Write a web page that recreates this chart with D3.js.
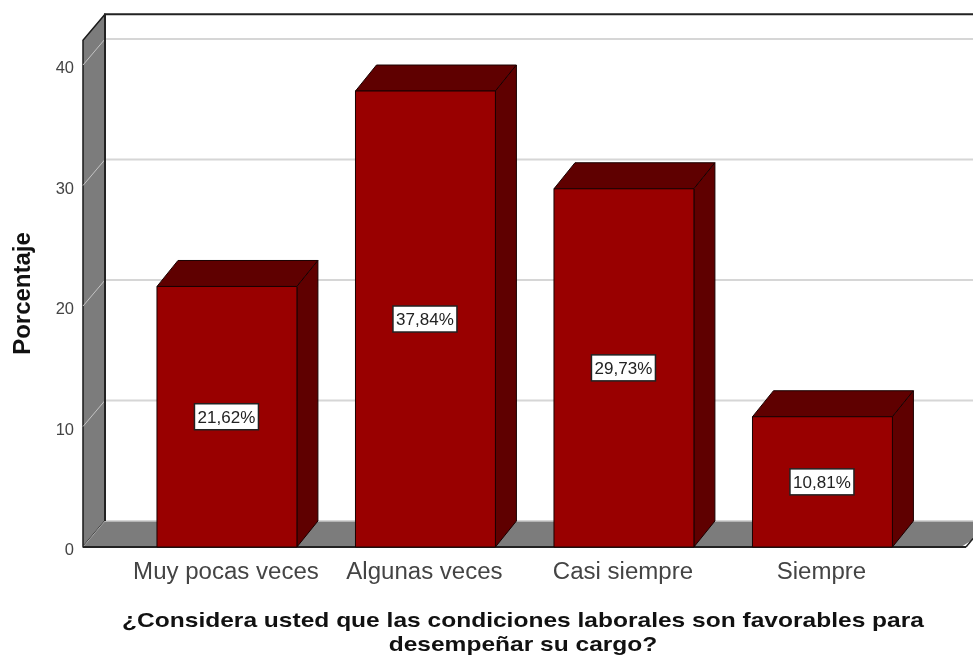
<!DOCTYPE html>
<html><head><meta charset="utf-8">
<script src="https://cdnjs.cloudflare.com/ajax/libs/d3/7.8.5/d3.min.js"></script>
<style>html,body{margin:0;padding:0;background:#fff}svg{display:block;filter:blur(0.45px)}text{font-family:"Liberation Sans",Arial,sans-serif}</style>
</head><body><svg id="c" width="973" height="655"></svg>
<script>
const categories = ["Muy pocas veces","Algunas veces","Casi siempre","Siempre"];
const values = [21.62,37.84,29.73,10.81];
const valueLabels = ["21,62%","37,84%","29,73%","10,81%"];
const yTicks = [0,10,20,30,40];
const yTitle = "Porcentaje";
const xTitleLines = ["¿Considera usted que las condiciones laborales son favorables para","desempeñar su cargo?"];

const W=973,H=655,depthX=22,depthY=26,barDepthX=21,frontLeft=83,yTopValue=42.05;
const svg=d3.select("#c");
const y=d3.scaleLinear().domain([0,40]).range([547,65]);
const x=d3.scaleBand().domain(categories).range([127.7,921.7]).paddingInner(0.295).paddingOuter(0.1475);
const poly=(pts,fill,stroke,sw)=>svg.append("polygon").attr("points",pts.map(p=>p.join(",")).join(" "))
  .attr("fill",fill).attr("stroke",stroke||"none").attr("stroke-width",sw||0).attr("stroke-linejoin","round");
const stretch=(sel,k)=>sel.each(function(){const n=this.getComputedTextLength();d3.select(this).attr("textLength",n*k).attr("lengthAdjust","spacingAndGlyphs");});
const b=y(0), t=y(yTopValue), L=frontLeft, R=W+30;

// left wall and floor
poly([[L,b],[L+depthX,b-depthY],[L+depthX,t-depthY],[L,t]],"#7c7c7c","#1a1a1a",1.5);
poly([[L,b],[L+depthX,b-depthY],[R,b-depthY],[R-depthX-20,b]],"#7c7c7c");
svg.append("line").attr("x1",L).attr("y1",b).attr("x2",L+depthX).attr("y2",b-depthY).attr("stroke","#a8a8a8").attr("stroke-width",1);
svg.append("line").attr("x1",L+depthX).attr("y1",b-depthY).attr("x2",W).attr("y2",b-depthY).attr("stroke","#c8c8c8").attr("stroke-width",1.5);

// gridlines
yTicks.filter(d=>d>0).forEach(d=>{
  svg.append("line").attr("x1",L).attr("y1",y(d)).attr("x2",L+depthX).attr("y2",y(d)-depthY).attr("stroke","#c4c4c4").attr("stroke-width",1);
  svg.append("line").attr("x1",L+depthX).attr("y1",y(d)-depthY).attr("x2",W).attr("y2",y(d)-depthY).attr("stroke","#d6d6d6").attr("stroke-width",2);
});

// frame
svg.append("path").attr("d",`M${L+depthX},${b-depthY}V${t-depthY}H${W}`).attr("fill","none").attr("stroke","#222").attr("stroke-width",2);
svg.append("line").attr("x1",L).attr("y1",b).attr("x2",966).attr("y2",b).attr("stroke","#222").attr("stroke-width",2);
svg.append("line").attr("x1",966).attr("y1",b).attr("x2",W).attr("y2",b-8.5).attr("stroke","#222").attr("stroke-width",1.5);

// bars
categories.forEach((c,i)=>{
  const x0=x(c),x1=x0+x.bandwidth(),top=y(values[i]);
  poly([[x0,top],[x0+barDepthX,top-depthY],[x1+barDepthX,top-depthY],[x1,top]],"#5f0000","#1a0000",1);
  poly([[x1,top],[x1+barDepthX,top-depthY],[x1+barDepthX,b-depthY],[x1,b]],"#5f0000","#1a0000",1);
  poly([[x0,top],[x1,top],[x1,b],[x0,b]],"#990000","#1a0000",1);
});

// value labels
categories.forEach((c,i)=>{
  const cx=x(c)+x.bandwidth()/2-0.5, cy=y(values[i]/2);
  svg.append("rect").attr("x",cx-32).attr("y",cy-13).attr("width",64).attr("height",26).attr("fill","#fff").attr("stroke","#222").attr("stroke-width",1.5);
  svg.append("text").attr("x",cx).attr("y",cy+6).attr("text-anchor","middle").attr("font-size",17).attr("fill","#222").text(valueLabels[i]);
});

// y tick labels
const yAxis=d3.axisLeft(y).tickValues(yTicks).tickSize(0).tickPadding(0);
const gy=svg.append("g").attr("transform","translate(74,2.5)").call(yAxis);
gy.select(".domain").remove();
gy.selectAll("text").attr("font-size",16.5).attr("fill","#444").attr("font-family","Liberation Sans");

// category labels
const gx=svg.append("g").attr("transform",`translate(-1,${b})`).call(d3.axisBottom(x).tickSize(0).tickPadding(0));
gx.select(".domain").remove();
gx.selectAll("text").attr("font-size",23).attr("fill","#444").attr("font-family","Liberation Sans").attr("y",31.5).attr("dy",0).call(stretch,1.045);

// titles
svg.append("text").attr("transform","translate(29.5,293.5) rotate(-90)").attr("text-anchor","middle").attr("font-size",24).attr("font-weight","bold").attr("fill","#111").text(yTitle);
xTitleLines.forEach((s,i)=>svg.append("text").attr("x",523).attr("y",626.5+i*24).attr("text-anchor","middle").attr("font-size",20.8).attr("font-weight","bold").attr("fill","#111").text(s).call(stretch,1.18));
</script></body></html>
